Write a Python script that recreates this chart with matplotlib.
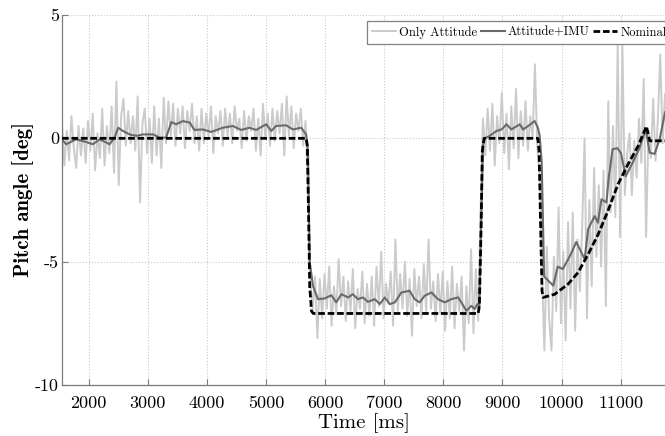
import numpy as np
import matplotlib
matplotlib.use("Agg")
import matplotlib.pyplot as plt

plt.rcParams['font.family'] = 'serif'
plt.rcParams['font.serif'] = ['cmr10', 'DejaVu Serif']
plt.rcParams['axes.formatter.use_mathtext'] = True

# only attitude (raw), sampled every 40 ms from 1550 to 11750 ms
att_t = np.arange(1550, 11751, 40)
att_v = [
    0.6, -1.1, 0.3, -0.9, 0.9, -0.4, -1.2, 0.5, -0.7, 0.4,
    -1.0, 0.7, -0.5, 1.0, -1.3, 0.2, -0.8, 1.2, -1.1, 0.5,
    -0.6, 1.3, -1.4, 2.3, -1.9, 0.9, 1.6, -0.3, 1.1, -0.2,
    0.9, -0.5, 1.7, -2.6, 0.6, 1.2, -0.6, 0.8, -1.0, 1.3,
    -0.7, 0.8, -1.2, 1.65, -0.2, 1.5, 0.1, 1.4, -0.3, 1.2,
    0.2, 1.3, -0.4, 1.1, 0.3, 1.4, -0.2, 0.9, -0.5, 1.2,
    -0.2, 1.0, 0.1, 1.3, -0.6, 0.9, 0.2, 1.1, -0.3, 1.2,
    0.1, 1.0, -0.2, 1.3, 0.3, 0.8, -0.4, 1.1, -0.1, 0.9,
    0.3, 1.2, -0.5, 0.8, -0.7, 1.4, 0.0, 1.0, -0.3, 1.2,
    -0.1, 1.1, 0.2, 1.4, -0.7, 1.7, 0.1, 1.3, -0.4, 1.0,
    0.3, 1.2, -0.3, 0.7, -2.0, -5.8, -6.9, -5.6, -8.1, -5.7,
    -7.3, -5.5, -6.9, -5.2, -7.6, -6.0, -7.1, -4.9, -6.8, -5.6,
    -7.4, -5.8, -7.0, -5.3, -7.7, -6.1, -6.9, -5.4, -7.5, -5.9,
    -7.2, -5.6, -7.6, -5.2, -6.8, -4.6, -7.3, -5.9, -6.7, -5.4,
    -7.6, -4.1, -7.0, -5.5, -6.9, -5.0, -7.2, -5.7, -8.0, -5.3,
    -6.8, -5.6, -7.3, -5.1, -7.0, -4.1, -6.9, -5.8, -7.4, -5.5,
    -7.1, -5.4, -7.8, -5.8, -7.3, -5.2, -7.7, -5.9, -7.0, -5.6,
    -8.6, -6.0, -7.5, -4.5, -7.9, -5.3, -7.4, -3.0, 0.8, -0.7,
    1.2, -0.5, 1.4, -1.1, 0.9, -0.2, 1.85, -0.6, 1.0, -1.25,
    1.3, -0.4, 2.0, -0.8, 1.1, -0.3, 1.5, -0.5, 0.9, 0.0,
    3.0, -0.4, -1.5, -5.5, -8.6, -4.4, -7.3, -8.6, -4.8, -7.0,
    -2.8, -7.5, -4.6, -8.2, -3.4, -6.9, -3.0, -7.8, -4.1, -6.2,
    -3.5, 0.0, -7.3, -2.5, -6.0, -1.2, -4.8, -1.9, -5.2, -1.3,
    -6.8, 1.5, -3.0, 0.5, -3.2, 3.9, -4.0, 3.8, -2.3, -0.6,
    0.2, -2.3, -0.1, -1.6, 0.8, -1.0, 2.4, -4.0, 0.3, -0.8,
    1.6, -0.9, 0.8, 3.4, -0.2, 1.8,
]

# attitude + IMU (filtered)
imu_t = [1550, 1620, 1790, 1960, 2070, 2190, 2355, 2440, 2500, 2580,
         2690, 2810, 2920, 3090, 3200, 3310, 3400, 3480, 3595, 3710,
         3790, 3930, 4075, 4270, 4440, 4580, 4720, 4835, 5005, 5090,
         5170, 5340, 5455, 5595, 5680, 5710, 5740, 5795,
         5880, 5995, 6105, 6190, 6275, 6390, 6470, 6555, 6640, 6725,
         6840, 6925, 7010, 7095, 7180, 7290, 7430, 7515, 7600, 7685,
         7800, 7910, 8025, 8135, 8250, 8305, 8390, 8475, 8530, 8575,
         8610, 8640, 8670,
         8700, 8785, 8900, 8985, 9070, 9150, 9295, 9350, 9435, 9545,
         9600, 9630, 9665, 9705, 9800, 9860, 9935, 10020, 10140, 10250,
         10390, 10450, 10560, 10615, 10675, 10760, 10800, 10865, 10945, 11005,
         11085, 11200, 11310, 11425, 11490, 11575, 11660, 11750]
imu_v = [-0.05, -0.24, -0.04, -0.15, -0.24, -0.04, -0.24, 0.03, 0.43, 0.3,
         0.16, 0.1, 0.16, 0.16, 0.03, 0.03, 0.66, 0.57, 0.7, 0.64,
         0.34, 0.36, 0.26, 0.43, 0.5, 0.34, 0.43, 0.34, 0.57, 0.3,
         0.5, 0.53, 0.36, 0.43, 0.16, -0.5, -5.0, -5.98,
         -6.52, -6.49, -6.36, -6.65, -6.32, -6.45, -6.32, -6.52, -6.45, -6.63,
         -6.52, -6.72, -6.45, -6.72, -6.65, -6.25, -6.18, -6.52, -6.65, -6.38,
         -6.25, -6.52, -6.65, -6.52, -6.45, -6.65, -6.99, -6.79, -6.92, -6.72,
         -6.8, -3.5, -0.3,
         0.0, 0.1, 0.3, 0.36, 0.57, 0.36, 0.57, 0.36, 0.5, 0.7,
         0.43, 0.1, -1.0, -5.6, -5.83, -5.97, -5.2, -5.3, -4.78, -4.2,
         -4.9, -3.68, -3.15, -3.42, -2.47, -2.6, -1.54, -0.44, -0.4, -0.6,
         -1.54, -1.0, -0.44, 0.36, -0.58, -0.63, -0.03, 1.05]

# nominal pitch profile
nom_t = [1550, 5680, 5700, 5720, 5740, 5770, 5800, 8590, 8610, 8640, 8660, 8690,
         9600, 9620, 9650, 9670, 9690, 9885, 10110, 10280, 10450, 10620, 10785,
         10955, 11125, 11295, 11436, 11492, 11750]
nom_v = [0, 0, -0.3, -3.0, -6.0, -7.0, -7.1, -7.1, -6.8, -3.5, -0.5, 0,
         0, -0.5, -4.0, -6.2, -6.45, -6.32, -5.91, -5.44, -4.70, -3.89, -2.94,
         -1.86, -1.05, -0.31, 0.49, -0.1, -0.1]

yticks = [-10, -5, 0, 5]
ytick_labels = ['-10', '-5', '0', '5']
xticks = list(range(2000, 11001, 1000))

fig = plt.figure(figsize=(6.65, 4.36), dpi=100)
ax = fig.add_axes([62 / 665, 51 / 436, 603 / 665, 370 / 436])

ax.plot(att_t, att_v, color='#cbcbcb', lw=1.4, label='Only Attitude', zorder=2)
ax.plot(imu_t, imu_v, color='#6a6a6a', lw=1.5, label='Attitude+IMU', zorder=3)
ax.plot(nom_t, nom_v, color='black', lw=2.0, dashes=(2.4, 1.0),
        label='Nominal', zorder=4)

ax.set_xlim(1550, 11750)
ax.set_ylim(-10, 5)
ax.set_xticks(xticks)
ax.set_xticklabels([str(x) for x in xticks])
ax.set_yticks(yticks)
ax.set_yticklabels(ytick_labels)
ax.grid(True, color='#c8c8c8', linestyle=':', linewidth=0.8, zorder=0)

for side in ['top', 'right']:
    ax.spines[side].set_visible(False)
for side in ['left', 'bottom']:
    ax.spines[side].set_color('#7a7a7a')
    ax.spines[side].set_linewidth(0.9)
ax.tick_params(direction='in', length=4, color='#7a7a7a', labelsize=13)
ax.tick_params(axis='x', pad=8)
ax.tick_params(axis='y', pad=2)

ax.set_xlabel('Time [ms]', fontsize=15, labelpad=1)
ax.set_ylabel('Pitch angle [deg]', fontsize=15, fontfamily='cmb10', labelpad=1)

leg = ax.legend(loc='upper left', bbox_to_anchor=(0.506, 0.984), ncol=3,
                prop={'family': 'cmr10', 'size': 9}, frameon=True,
                fancybox=False, edgecolor='#808080', framealpha=1,
                handlelength=1.9, handletextpad=0.25, columnspacing=0.3,
                borderpad=0.4, borderaxespad=0)
leg.get_frame().set_linewidth(0.9)

fig.savefig('out.png', dpi=100)
